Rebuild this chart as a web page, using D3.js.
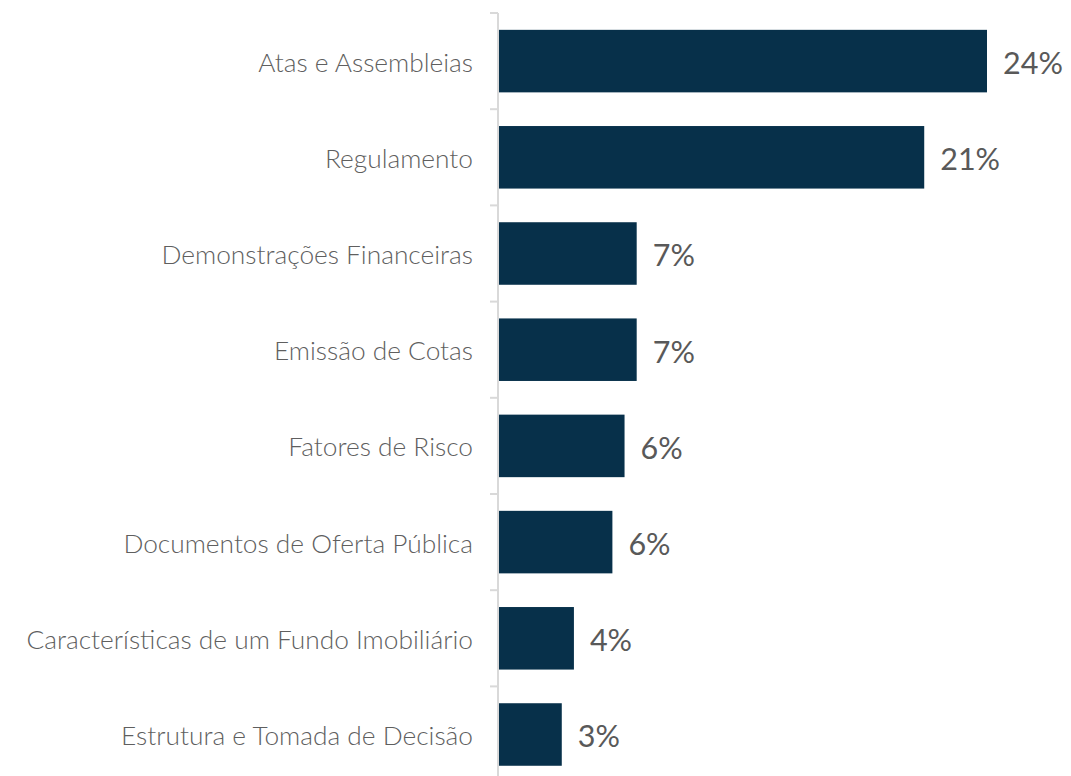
<!DOCTYPE html>
<html><head><meta charset="utf-8">
<script src="https://cdn.jsdelivr.net/npm/d3@7"></script>
<style>body{margin:0;background:#fff}svg{display:block}</style>
</head><body>
<svg id="c" width="1071" height="776"></svg>
<script>
const categories = ["Atas e Assembleias","Regulamento","Demonstrações Financeiras","Emissão de Cotas","Fatores de Risco","Documentos de Oferta Pública","Características de um Fundo Imobiliário","Estrutura e Tomada de Decisão"];
const values = [24.1, 21.0, 6.8, 6.8, 6.2, 5.6, 3.7, 3.1];
const valueLabels = ["24%","21%","7%","7%","6%","6%","4%","3%"];

(function(){
const svg = d3.select("#c");
const x0 = 498, yTop = 13, band = 96.2;
const y = d3.scaleBand().domain(categories).range([yTop, yTop + band*categories.length]).paddingInner(0.35).paddingOuter(0.175);
const x = d3.scaleLinear().domain([0, 24.1]).range([x0+1, 987]);

svg.append("line").attr("x1",x0).attr("x2",x0).attr("y1",yTop).attr("y2",yTop+band*categories.length)
  .attr("stroke","#d9d9d9").attr("stroke-width",2);
const bounds = d3.range(categories.length+1).map(i => yTop + i*band);
svg.selectAll("line.tk").data(bounds).enter().append("line").attr("class","tk")
  .attr("x1",x0-8).attr("x2",x0).attr("y1",d=>d).attr("y2",d=>d)
  .attr("stroke","#d9d9d9").attr("stroke-width",2);

svg.selectAll("rect.bar").data(values).enter().append("rect").attr("class","bar")
  .attr("x", x(0)).attr("y",(d,i)=>y(categories[i])).attr("width",d=>x(d)-x(0)).attr("height",y.bandwidth())
  .attr("fill","#07304a");

svg.selectAll("text.cat").data(categories).enter().append("text").attr("class","cat")
  .attr("x", 473).attr("y", d=>y(d)+y.bandwidth()/2).attr("dy","0.4em").attr("text-anchor","end")
  .attr("font-family","Lato").attr("font-weight",300).attr("font-size",26.3).attr("fill","#5f5f5f").text(d=>d);

svg.selectAll("text.val").data(values).enter().append("text").attr("class","val")
  .attr("x", d=>x(d)+16).attr("y",(d,i)=>y(categories[i])+y.bandwidth()/2).attr("dy","0.42em")
  .attr("font-family","Lato").attr("font-weight",400).attr("font-size",30.5).attr("fill","#595959").text((d,i)=>valueLabels[i]);
})();
</script>
</body></html>
